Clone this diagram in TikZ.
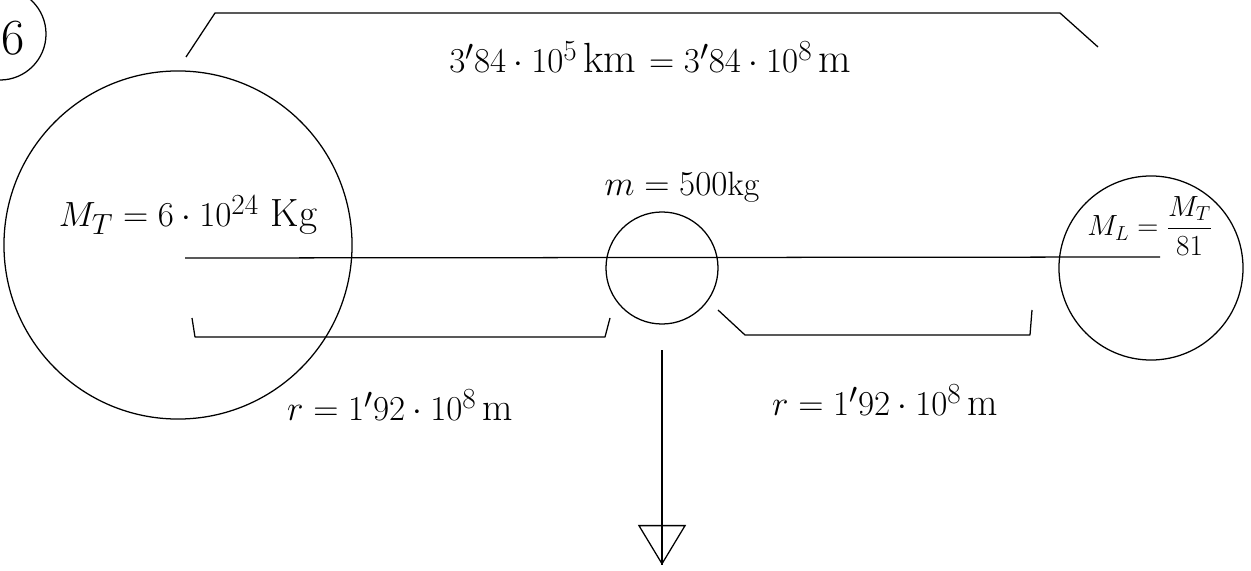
\documentclass[tikz,border=0pt]{standalone}
\usetikzlibrary{arrows.meta}
\begin{document}
\begin{tikzpicture}[
                x=0.025cm, y=-0.025cm,
                line width=0.9pt,
                every node/.style={font=\fontsize{28}{32}\selectfont},
                body/.style={circle,draw,inner sep=0pt},
                bracket/.style={draw,line join=round}
            ]
            \useasboundingbox (0,0) rectangle (1251,571);

            % problem number
            \node[circle,draw,minimum size=2.3cm] (num) at (0,34) {};
            \node[font=\fontsize{36}{40}\selectfont] (six) at (13,38) {6};

            % bodies
            \node[body,minimum size=8.7cm] (earth) at (178,245) {};
            \node[body,minimum size=2.8cm] (probe) at (662,268) {};
            \node[body,minimum size=4.6cm] (moon) at (1151,268) {};

            % labels
            \node[font=\fontsize{30}{34}\selectfont] (dist) at (650,57) {$3'84\cdot10^{5}\,$km $=3'84\cdot10^{8}\,$m};
            \node (mt) at (188,215) {$M_T=6\cdot10^{24}$ Kg};
            \node[font=\fontsize{24}{28}\selectfont] (mp) at (682,187) {$m=500$kg};
            \node[font=\fontsize{22}{26}\selectfont] (ml) at (1150,226) {$\displaystyle M_L=\frac{M_T}{81}$};
            \node (rleft) at (400,405) {$r=1'92\cdot10^{8}\,$m};
            \node (rright) at (885,400) {$r=1'92\cdot10^{8}\,$m};

            % axis through the centres
            \coordinate (axisL) at (185,258);
            \coordinate (axisR) at (1160,257);
            \draw (axisL) -- (axisR);

            % brackets
            \coordinate (topA) at (186,57);
            \coordinate (topB) at (215,13);
            \coordinate (topC) at (1060,13);
            \coordinate (topD) at (1098,47);
            \draw[bracket] (topA) -- (topB) -- (topC) -- (topD);

            \coordinate (lA) at (192,318);
            \coordinate (lB) at (195,337);
            \coordinate (lC) at (605,337);
            \coordinate (lD) at (610,318);
            \draw[bracket] (lA) -- (lB) -- (lC) -- (lD);

            \coordinate (rA) at (718,310);
            \coordinate (rB) at (745,335);
            \coordinate (rC) at (1030,335);
            \coordinate (rD) at (1032,310);
            \draw[bracket] (rA) -- (rB) -- (rC) -- (rD);

            % weight of the probe
            \coordinate (wStart) at (662,350);
            \coordinate (wEnd) at (662,565);
            \draw[-{Triangle[open,length=1cm,width=1.2cm]}] (wStart) -- (wEnd);
            \draw (wStart) -- (wEnd);

        \end{tikzpicture}
\end{document}
